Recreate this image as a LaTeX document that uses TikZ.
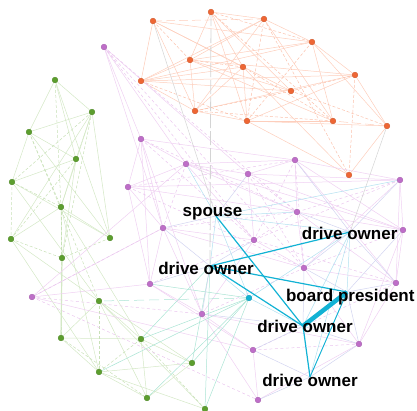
\documentclass[tikz,border=0pt]{standalone}
\usepackage{fontspec}
\setmainfont{Liberation Sans}
\begin{document}
\begin{tikzpicture}[x=1pt,y=-1pt]
\definecolor{onode}{RGB}{238,102,52}
\definecolor{oedge}{RGB}{253,206,188}
\definecolor{gnode}{RGB}{92,158,46}
\definecolor{gedge}{RGB}{212,232,198}
\definecolor{pnode}{RGB}{190,110,200}
\definecolor{pedge}{RGB}{239,208,242}
\definecolor{bmain}{RGB}{18,178,212}
\definecolor{bedge}{RGB}{178,224,240}
\definecolor{tedge}{RGB}{170,228,212}
\definecolor{medge}{RGB}{210,212,240}
\definecolor{gray1}{RGB}{212,212,212}
\tikzset{
  dot/.style={circle,inner sep=0pt,minimum size=5.8pt,line width=0.3pt},
  odot/.style={dot,fill=onode,draw=onode!85!black},
  gdot/.style={dot,fill=gnode,draw=gnode!85!black},
  pdot/.style={dot,fill=pnode,draw=pnode!85!black},
  bdot/.style={dot,fill=bmain,draw=bmain!85!black},
  thin edge/.style={line width=0.5pt},
  oe/.style={thin edge,draw=oedge},
  oed/.style={thin edge,draw=oedge!88!onode,dash pattern=on 3pt off 2pt},
  oel/.style={thin edge,draw=oedge,dash pattern=on 9pt off 4pt},
  ge/.style={thin edge,draw=gedge},
  ged/.style={thin edge,draw=gedge!90!gnode,dash pattern=on 3pt off 2pt},
  pe/.style={thin edge,draw=pedge},
  ped/.style={thin edge,draw=pedge!90!pnode,dash pattern=on 3pt off 2.5pt},
  te/.style={thin edge,draw=tedge},
  ted/.style={thin edge,draw=tedge,dash pattern=on 10pt off 5pt},
  me/.style={thin edge,draw=medge},
  be/.style={thin edge,draw=bedge},
  grayline/.style={line width=0.8pt,draw=gray1,dash pattern=on 14pt off 3pt},
  strong/.style={line width=1.2pt,draw=bmain},
  heavy/.style={line width=4.5pt,draw=bmain},
  lbl/.style={font=\fontsize{17}{17}\selectfont\bfseries,inner sep=0pt,anchor=base,text=black}
}
\useasboundingbox (0,0) rectangle (417,410);

% orange community
\foreach \n/\x/\y in {O1/153/21,O2/211/12,O3/264/19,O4/312/42,O5/355/75,O6/387/126,O7/349/175,
  O8/333/121,O9/291/91,O10/243/67,O11/190/60,O12/141/81,O13/195/111,O14/247/121}
  \coordinate (\n) at (\x,\y);
% green community
\foreach \n/\x/\y in {G1/55/80,G2/92/112,G3/29/132,G4/76/159,G5/12/182,G6/61/207,G7/11/239,
  G8/110/238,G9/62/258,G10/99/301,G11/61/338,G12/141/339,G13/99/372,G14/147/398,G15/192/363,G16/205/409}
  \coordinate (\n) at (\x,\y);
% purple community
\foreach \n/\x/\y in {P1/104/47,P2/141/139,P3/186/164,P4/128/187,P5/248/174,P6/295/160,P7/400/180,
  P8/163/228,P9/297/212,P10/254/240,P11/403/230,P12/304/268,P13/396/283,P14/150/284,P15/32/297,
  P16/202/314,P17/253/350,P18/359/344,P19/258/400}
  \coordinate (\n) at (\x,\y);
% central people
\coordinate (T1) at (249,298);
\coordinate (S) at (216,216);
\coordinate (D1) at (210,266);
\coordinate (D2) at (350,232);
\coordinate (BP) at (347,292);
\coordinate (D3) at (303,326);
\coordinate (D4) at (310,377);

% ---- background edges ----
\foreach \a/\b in {O1/O12,O1/O13,O1/O4,O1/O9,O2/O3,O2/O10,O2/O14,O2/O9,O3/O11,O3/O12,O3/O8,
  O3/O4,O3/O13,O4/O5,O4/O11,O4/O8,O4/O6,O5/O6,O5/O11,O5/O13,O5/O14,O6/O7,O6/O14,O7/O14,
  O7/O10,O8/O14,O8/O11,O9/O12,O9/O11,O10/O12,O10/O14,O11/O12,O11/O13,O12/O13,O13/O14,
  O13/O10,O12/O5,O1/O10,O2/O11,O4/O12}
  \draw[oe] (\a) -- (\b);
\foreach \a/\b in {O1/O11,O2/O4,O3/O7,O4/O14,O5/O9,O8/O10,O9/O13,O5/O7,O2/O8,O10/O11,
  O12/O14,O6/O9,O13/O8,O3/O14}
  \draw[oed] (\a) -- (\b);
\foreach \a/\b in {O1/O3,O6/O8,O14/O8}
  \draw[oel] (\a) -- (\b);

\foreach \a/\b in {G1/G2,G1/G3,G1/G4,G1/G8,G2/G3,G2/G4,G2/G6,G2/G7,G2/G8,G3/G5,G3/G4,G3/G8,
  G4/G5,G4/G9,G4/G6,G5/G8,G5/G10,G6/G7,G6/G9,G6/G12,G6/G13,G6/G8,G7/G10,G7/G13,G9/G11,
  G10/G11,G10/G12,G10/G14,G11/G12,G11/G13,G12/G14,G13/G14,G15/G14,G15/G10,G16/G10,
  G16/G13,G15/G12,G15/G13}
  \draw[ge] (\a) -- (\b);
\foreach \a/\b in {G1/G6,G2/G5,G2/G9,G3/G6,G5/G6,G5/G7,G4/G7,G6/G11,G7/G9,G8/G9,G10/G13,
  G11/G14,G12/G13,G16/G12,G3/G10}
  \draw[ged] (\a) -- (\b);
\draw[ge,line width=1.2pt] (G9) -- (G11);

\foreach \a/\b in {P1/P3,P1/P5,P1/P8,P1/P2,P2/P3,P2/P4,P2/P8,P2/P6,P2/P14,P2/P16,P3/P4,
  P3/P5,P3/P6,P3/P9,P3/P10,P3/P11,P4/P8,P4/P14,P4/P9,P4/P7,P5/P6,P5/P10,P5/P7,P5/P11,
  P6/P7,P6/P9,P6/P11,P6/P13,P7/P11,P7/P13,P7/P12,P8/P14,P8/P10,P8/P12,P8/P16,P9/P11,
  P9/P12,P9/P13,P10/P12,P10/P16,P11/P13,P11/P18,P12/P13,P12/P18,P13/P18,P14/P15,P14/P16,
  P14/P17,P15/P3,P15/P8,P15/P17,P16/P17,P16/P19,P17/P19,P18/P19,P16/P18}
  \draw[pe] (\a) -- (\b);
\foreach \a/\b in {P1/P9,P1/P10,P1/P12,P2/P9,P2/P10,P3/P8,P4/P6,P4/P12,P5/P9,P5/P12,
  P6/P10,P6/P12,P7/P9,P7/P10,P8/P9,P8/P15,P9/P10,P10/P14,P10/P13,P11/P12,P12/P16,P13/P17,
  P15/P16,P15/P19,P17/P18}
  \draw[ped] (\a) -- (\b);

% links between communities and to the central people
\foreach \a/\b in {T1/G12,T1/G14,T1/G15,T1/G13,T1/G16,D1/G16,D1/G12,D1/G15,T1/P14}
  \draw[te] (\a) -- (\b);
\draw[ted] (T1) -- (G10);
\foreach \a/\b in {D2/P6,D2/P7,D2/P9,D2/P12,D2/P13,D2/P11,BP/P13,BP/P11,BP/P12,BP/P18,
  D3/P17,D3/P18,D3/P12,D3/P16,D4/P19,D4/P17,D4/P18,S/P5,S/P8,D1/P8,D1/P14,D1/P16,D1/P10}
  \draw[me] (\a) -- (\b);
\foreach \a/\b in {S/P3,S/P9,S/P7,S/D2,S/D1,S/T1,D2/D3,D2/D4,D2/BP,D2/T1,D1/T1,T1/D3,BP/D4}
  \draw[be] (\a) -- (\b);
\draw[grayline] (O2) -- (D1);
\draw[gray1,thin edge] (O1) -- (S);
\draw[gray1,thin edge] (O6) -- (D2);

% ---- strong ties ----
\draw[strong] (S) -- (D3);
\draw[strong] (D1) -- (D2);
\draw[strong] (D1) -- (BP);
\draw[strong] (D1) -- (D3);
\draw[strong] (D3) -- (D4);
\draw[strong,line width=0.9pt] (BP) -- (D4);
\draw[heavy] (D3) -- (BP);

% ---- nodes ----
\foreach \n in {O1,O2,O3,O4,O5,O6,O7,O8,O9,O10,O11,O12,O13,O14}
  \node[odot] at (\n) {};
\foreach \n in {G1,G2,G3,G4,G5,G6,G7,G8,G9,G10,G11,G12,G13,G14,G15,G16}
  \node[gdot] at (\n) {};
\foreach \n in {P1,P2,P3,P4,P5,P6,P7,P8,P9,P10,P11,P12,P13,P14,P15,P16,P17,P18,P19}
  \node[pdot] at (\n) {};
\node[bdot] at (T1) {};

% ---- labels ----
\node[lbl] (Slbl) at (212.5,216) {spouse};
\node[lbl] (D1lbl) at (206,274) {drive owner};
\node[lbl] (D2lbl) at (349.7,239.5) {drive owner};
\node[lbl] (BPlbl) at (350.3,301) {board president};
\node[lbl] (D3lbl) at (305,332.7) {drive owner};
\node[lbl] (D4lbl) at (310,386) {drive owner};
\end{tikzpicture}
\end{document}
